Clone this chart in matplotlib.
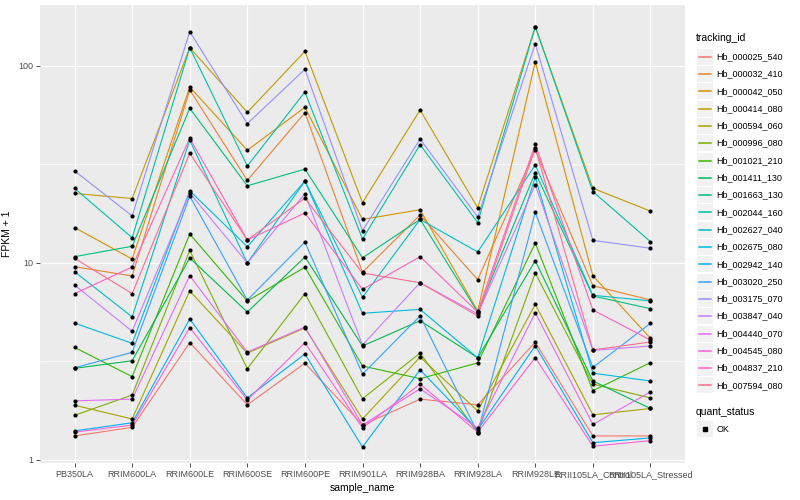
import matplotlib
matplotlib.use('Agg')
import matplotlib.pyplot as plt
import numpy as np
from matplotlib.patches import Rectangle
from matplotlib.lines import Line2D

plt.rcParams['font.family'] = ['Liberation Sans', 'DejaVu Sans']

# samples on the x axis
samples = ['PB350LA', 'RRIM600LA', 'RRIM600LE', 'RRIM600SE', 'RRIM600PE', 'RRIM901LA',
           'RRIM928BA', 'RRIM928LA', 'RRIM928LE', 'RRII105LA_Control', 'RRII105LA_Stressed']

tracking_ids = ['Hb_000025_540', 'Hb_000032_410', 'Hb_000042_050', 'Hb_000414_080', 'Hb_000594_060',
                'Hb_000996_080', 'Hb_001021_210', 'Hb_001411_130', 'Hb_001663_130', 'Hb_002044_160',
                'Hb_002627_040', 'Hb_002675_080', 'Hb_002942_140', 'Hb_003020_250', 'Hb_003175_070',
                'Hb_003847_040', 'Hb_004440_070', 'Hb_004545_080', 'Hb_004837_210', 'Hb_007594_080']

# FPKM + 1 per gene, one value per sample
hb_000025_540 = [1.32, 1.46, 3.93, 1.90, 3.09, 1.50, 2.03, 1.90, 3.95, 1.32, 1.32]
hb_000032_410 = [9.55, 8.57, 75.5, 26.2, 57.9, 8.95, 17.5, 8.21, 37.4, 7.65, 6.47]
hb_000042_050 = [15.1, 10.45, 78.1, 37.3, 61.6, 16.6, 18.6, 5.69, 104.7, 8.60, 4.14]
hb_000414_080 = [22.5, 21.2, 123.7, 58.1, 118.6, 20.2, 59.7, 19.05, 158.1, 23.9, 18.3]
hb_000594_060 = [1.89, 1.61, 7.19, 3.48, 4.67, 1.61, 3.32, 1.77, 6.15, 1.69, 1.82]
hb_000996_080 = [1.68, 2.13, 11.55, 2.90, 6.97, 2.04, 3.48, 1.37, 8.87, 2.42, 2.06]
hb_001021_210 = [3.72, 2.64, 14.0, 6.40, 9.49, 2.99, 2.58, 3.10, 12.6, 2.24, 3.11]
hb_001411_130 = [2.91, 3.18, 10.58, 5.62, 10.7, 3.78, 5.08, 3.29, 10.25, 2.51, 1.82]
hb_001663_130 = [10.74, 12.13, 60.9, 24.6, 29.9, 10.6, 16.6, 5.62, 28.7, 6.78, 5.85]
hb_002044_160 = [23.9, 13.4, 123.7, 31.0, 73.7, 13.2, 39.8, 16.0, 158.1, 23.0, 12.8]
hb_002627_040 = [9.01, 5.31, 42.0, 9.98, 26.0, 6.68, 16.6, 11.35, 31.4, 6.84, 6.40]
hb_002675_080 = [4.94, 3.90, 23.2, 12.07, 26.0, 5.54, 5.80, 3.29, 27.2, 2.75, 2.51]
hb_002942_140 = [1.40, 1.54, 5.18, 2.06, 3.44, 1.16, 2.86, 1.42, 3.79, 1.22, 1.29]
hb_003020_250 = [2.93, 3.51, 21.8, 6.47, 12.75, 2.72, 5.37, 1.37, 18.05, 2.94, 4.93]
hb_003175_070 = [29.3, 17.3, 149.2, 50.9, 96.1, 14.55, 42.5, 17.1, 129.7, 13.0, 11.85]
hb_003847_040 = [7.71, 4.49, 22.6, 9.98, 22.4, 3.82, 7.92, 5.50, 24.9, 3.59, 3.78]
hb_004440_070 = [1.99, 2.03, 8.60, 3.52, 4.72, 1.50, 2.29, 1.45, 5.58, 1.51, 2.21]
hb_004545_080 = [1.38, 1.50, 4.68, 2.01, 3.93, 1.45, 2.42, 1.38, 3.30, 1.17, 1.25]
hb_004837_210 = [6.97, 9.52, 43.0, 13.05, 17.9, 7.33, 10.74, 5.62, 40.1, 5.76, 4.05]
hb_007594_080 = [10.54, 6.97, 36.0, 13.05, 21.3, 8.87, 7.92, 5.37, 38.3, 3.61, 3.96]

series = [hb_000025_540, hb_000032_410, hb_000042_050, hb_000414_080, hb_000594_060,
          hb_000996_080, hb_001021_210, hb_001411_130, hb_001663_130, hb_002044_160,
          hb_002627_040, hb_002675_080, hb_002942_140, hb_003020_250, hb_003175_070,
          hb_003847_040, hb_004440_070, hb_004545_080, hb_004837_210, hb_007594_080]

# ggplot2 default hue palette, 20 levels
colours = ['#F8766D', '#EA8331', '#D89000', '#C09B00', '#A3A500', '#7CAE00', '#39B600',
           '#00BB4E', '#00BF7D', '#00C1A3', '#00BFC4', '#00BAE0', '#00B0F6', '#35A2FF',
           '#9590FF', '#C77CFF', '#E76BF3', '#FA62DB', '#FF62BC', '#FF6C91']

W, H = 800, 500
fig = plt.figure(figsize=(W / 100, H / 100), dpi=100)
ax = fig.add_axes([40 / W, 37 / H, 645 / W, 458 / H])
ax.set_facecolor('#EBEBEB')
for s in ax.spines.values():
    s.set_visible(False)

x = np.arange(1, len(samples) + 1)
for vals, c in zip(series, colours):
    ax.plot(x, vals, color=c, lw=0.8, zorder=2)
for vals in series:
    ax.plot(x, vals, 'o', color='black', ms=3, mew=0, zorder=3)

ax.set_yscale('log')
ax.set_ylim(0.962, 203.8)
ax.set_xlim(0.4, len(samples) + 0.6)
ax.set_yticks([1, 10, 100])
ax.set_yticklabels(['1', '10', '100'])
ax.set_yticks([10 ** 0.5, 10 ** 1.5], minor=True)
ax.yaxis.set_minor_formatter(plt.NullFormatter())
ax.set_xticks(x)
ax.set_xticklabels(samples)
ax.tick_params(which='major', length=3, width=0.6, color='#333333', labelcolor='#4D4D4D',
               labelsize=6.5, pad=2)
ax.tick_params(which='minor', length=0)
ax.grid(which='major', color='white', lw=0.9)
ax.grid(which='minor', axis='y', color='white', lw=0.45)
ax.set_axisbelow(True)
ax.set_xlabel('sample_name', fontsize=7.5, labelpad=3)
ax.set_ylabel('FPKM + 1', fontsize=7.5, labelpad=4)


def fx(px):
    return px / W


def fy(py):
    return 1 - py / H


# legend: tracking_id
fig.text(fx(696), fy(38), 'tracking_id', fontsize=7.5, va='center', ha='left')
for i, (tid, c) in enumerate(zip(tracking_ids, colours)):
    cy = 56.7 + i * 17.3
    fig.add_artist(Rectangle((fx(696.5), fy(cy + 8)), 16 / W, 16 / H, transform=fig.transFigure,
                             facecolor='#F2F2F2', edgecolor='none'))
    fig.add_artist(Line2D([fx(698.5), fx(710.5)], [fy(cy), fy(cy)], transform=fig.transFigure,
                          color=c, lw=1.1))
    fig.text(fx(716.5), fy(cy), tid, fontsize=6.5, va='center', ha='left')

# legend: quant_status
fig.text(fx(696), fy(412.3), 'quant_status', fontsize=7.5, va='center', ha='left')
cy = 429.3
fig.add_artist(Rectangle((fx(696.5), fy(cy + 8)), 16 / W, 16 / H, transform=fig.transFigure,
                         facecolor='#F2F2F2', edgecolor='none'))
fig.add_artist(Line2D([fx(704.5)], [fy(cy)], transform=fig.transFigure, marker='s',
                      color='black', ms=2.4, lw=0))
fig.text(fx(716.5), fy(cy), 'OK', fontsize=6.5, va='center', ha='left')

fig.savefig('out.png', dpi=100)
